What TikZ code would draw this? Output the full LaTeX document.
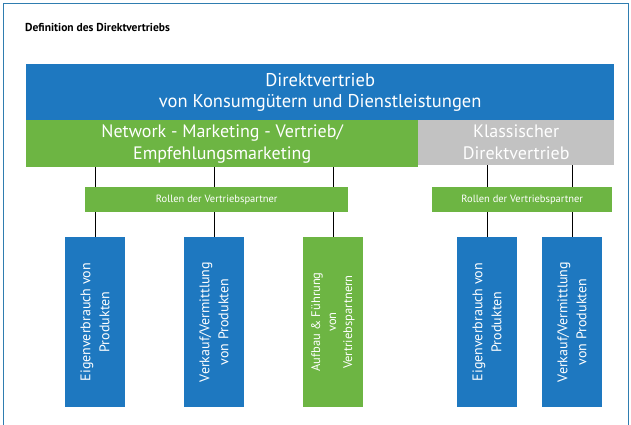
\documentclass[tikz,border=0pt]{standalone}
\usepackage{fontspec}
\setmainfont{PT Sans}
\definecolor{dvblue}{HTML}{1E78C0}
\definecolor{dvgreen}{HTML}{6DB543}
\definecolor{dvgray}{HTML}{C2C2C2}
\definecolor{dvframe}{HTML}{2F7DB0}
\tikzset{
  bar/.style={inner sep=0pt, text=white, align=center, anchor=north west},
  rollen/.style={bar, fill=dvgreen, minimum height=25pt, font=\fontsize{10.5}{12}\selectfont},
  pbox/.style={inner sep=0pt, text=white, align=center, rotate=90,
    minimum width=170pt, minimum height=60pt, font=\fontsize{14}{19}\selectfont},
  link/.style={line width=1pt, black}
}
\begin{document}
\begin{tikzpicture}[x=1pt,y=-1pt]
\useasboundingbox (0,0) rectangle (631,424);
\fill[white] (0,0) rectangle (631,424);

% frame
\draw[dvframe, line width=0.8pt] (3,440) -- (3,3) -- (628,3) -- (628,440);
\node[anchor=west, inner sep=0pt, font=\fontsize{11.5}{13}\selectfont\bfseries] (title) at (25,27) {Definition des Direktvertriebs};

% connectors first, bars on top
\coordinate (l1) at (95,167);
\coordinate (l2) at (214,167);
\coordinate (l3) at (333,167);
\coordinate (r1) at (487,165);
\coordinate (r2) at (572,165);

% boxes (rotated: east is the top side)
\node[pbox, fill=dvblue] (b1) at (95,322) {Eigenverbrauch von\\Produkten};
\node[pbox, fill=dvblue] (b2) at (214,322) {Verkauf/Vermittlung\\von Produkten};
\node[pbox, fill=dvgreen, font=\fontsize{12.5}{16}\selectfont] (b3) at (333,322) {Aufbau \& Führung\\von\\Vertriebspartnern};
\node[pbox, fill=dvblue] (b4) at (487,322) {Eigenverbrauch von\\Produkten};
\node[pbox, fill=dvblue] (b5) at (572,322) {Verkauf/Vermittlung\\von Produkten};

\draw[link] (l1) -- (b1.east);
\draw[link] (l2) -- (b2.east);
\draw[link] (l3) -- (b3.east);
\draw[link] (r1) -- (b4.east);
\draw[link] (r2) -- (b5.east);

% main bars
\node[bar, fill=dvblue, minimum width=588pt, minimum height=56pt,
  font=\fontsize{18.5}{21}\selectfont] (top) at (26,64)
  {Direktvertrieb\\von Konsumgütern und Dienstleistungen};
\node[bar, fill=dvgreen, minimum width=392pt, minimum height=47pt,
  font=\fontsize{18}{22}\selectfont] (nwm) at (26,120)
  {Network - Marketing - Vertrieb/\\Empfehlungsmarketing};
\node[bar, fill=dvgray, minimum width=196pt, minimum height=45pt,
  font=\fontsize{18}{22}\selectfont] (kdv) at (418,120)
  {Klassischer\\Direktvertrieb};

% roles
\node[rollen, minimum width=263pt] (rl) at (85,187) {Rollen der Vertriebspartner};
\node[rollen, minimum width=180pt] (rr) at (432,187) {Rollen der Vertriebspartner};

\end{tikzpicture}
\end{document}
